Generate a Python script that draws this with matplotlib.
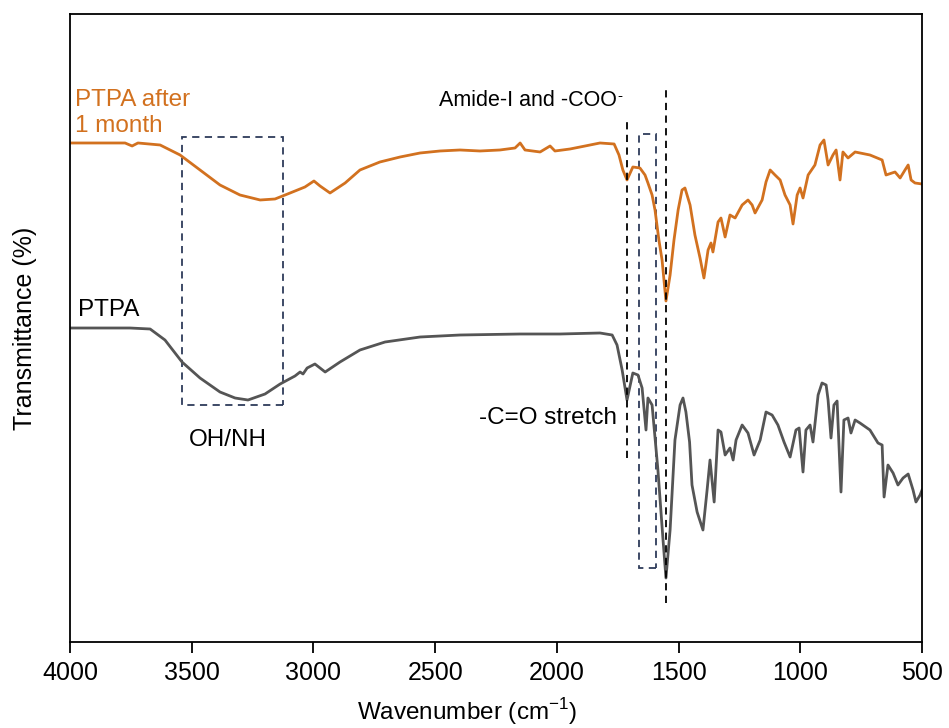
import matplotlib
matplotlib.use('Agg')
import matplotlib.pyplot as plt
from matplotlib.patches import Rectangle

plt.rcParams['font.family'] = ['Liberation Sans', 'DejaVu Sans']

# wavenumber (cm-1) and transmittance (arbitrary units, offset traces)
aged_wn = [4000, 3877, 3774, 3745, 3721, 3630, 3548, 3466, 3384, 3302, 3219, 3158,
           3096, 3035, 2998, 2973, 2932, 2870, 2809, 2727, 2644, 2562, 2480, 2398,
           2316, 2234, 2172, 2151, 2131, 2069, 2028, 2008, 1946, 1884, 1823, 1765,
           1745, 1729, 1712, 1688, 1659, 1638, 1626, 1609, 1597, 1581, 1568, 1552,
           1535, 1519, 1502, 1486, 1474, 1453, 1433, 1412, 1396, 1379, 1367, 1359,
           1338, 1326, 1309, 1289, 1268, 1239, 1215, 1198, 1186, 1157, 1141, 1124,
           1104, 1083, 1063, 1042, 1030, 1013, 1001, 989, 968, 940, 919, 903, 886,
           866, 853, 837, 825, 804, 775, 714, 664, 648, 611, 590, 570, 557, 545,
           529, 500]
aged_t = [499, 499, 499, 496, 499, 497, 487, 472, 457, 447, 442, 443,
          449, 455, 461, 456, 449, 459, 472, 480, 485, 489, 491, 492,
          491, 492, 494, 499, 492, 490, 496, 491, 493, 496, 499, 498,
          487, 472, 462, 475, 474, 467, 459, 447, 432, 402, 382, 341,
          367, 402, 432, 452, 454, 437, 407, 384, 364, 392, 399, 390,
          420, 424, 405, 427, 424, 437, 442, 437, 429, 442, 460, 472,
          467, 462, 447, 437, 418, 447, 454, 444, 467, 477, 497, 502, 477,
          487, 492, 462, 490, 484, 490, 487, 482, 467, 470, 464, 472, 477, 462,
          459, 458]

ptpa_wn = [4000, 3877, 3754, 3671, 3610, 3540, 3466, 3384, 3322, 3269, 3199, 3137,
           3076, 3055, 3043, 3026, 2994, 2952, 2891, 2809, 2706, 2562, 2398, 2151,
           1987, 1823, 1773, 1753, 1732, 1712, 1688, 1667, 1650, 1634, 1626, 1609,
           1585, 1564, 1552, 1535, 1515, 1494, 1482, 1470, 1455, 1445, 1424, 1400,
           1383, 1371, 1354, 1338, 1326, 1309, 1289, 1276, 1264, 1239, 1215, 1190,
           1165, 1141, 1116, 1092, 1067, 1042, 1018, 1005, 989, 977, 960, 948, 927,
           911, 894, 886, 874, 862, 849, 833, 821, 804, 792, 775, 755, 714, 681,
           664, 656, 640, 619, 599, 578, 557, 537, 525, 508, 500]
ptpa_t = [314, 314, 314, 313, 302, 280, 264, 250, 244, 242, 248, 258,
          266, 270, 268, 274, 278, 270, 280, 292, 300, 305, 307, 308,
          308, 309, 307, 297, 272, 242, 269, 267, 254, 212, 244, 237,
          172, 102, 64, 112, 202, 237, 244, 230, 200, 157, 130, 112,
          152, 182, 140, 212, 210, 187, 194, 182, 202, 217, 209, 187,
          202, 230, 227, 217, 200, 185, 212, 214, 170, 212, 217, 200, 247,
          259, 257, 242, 204, 237, 241, 150, 222, 224, 209, 222, 219, 212, 199,
          197, 145, 177, 169, 157, 164, 168, 152, 140, 147, 152]

# annotation regions (cm-1)
ohnh_box = (3540, 3125)
coo_box = (1662, 1592)
amide_lines = [1712, 1551]

orange = '#d2711f'
box_col = '#2e3c5a'
dash = (0, (4, 3))

fig = plt.figure(figsize=(9.49, 7.28), dpi=100)
ax = fig.add_axes([0.0738, 0.1181, 0.8978, 0.8627])

ax.plot(aged_wn, aged_t, color=orange, lw=2.0)
ax.plot(ptpa_wn, ptpa_t, color='#555555', lw=2.0)

ax.set_xlim(4000, 500)
ax.set_ylim(0, 628)
ax.set_yticks([])
ax.set_xticks([4000, 3500, 3000, 2500, 2000, 1500, 1000, 500])
ax.tick_params(axis='x', labelsize=18, length=8, width=1.3, pad=6)
for s in ax.spines.values():
    s.set_linewidth(1.3)

ax.add_patch(Rectangle((ohnh_box[1], 642 - 405), ohnh_box[0] - ohnh_box[1], 405 - 137,
                       fill=False, ec=box_col, ls=dash, lw=1.3))
ax.add_patch(Rectangle((coo_box[1], 642 - 568), coo_box[0] - coo_box[1], 568 - 134,
                       fill=False, ec=box_col, ls=dash, lw=1.3))
ax.plot([amide_lines[0], amide_lines[0]], [642 - 458, 642 - 117], color='black',
        ls=dash, lw=1.3)
ax.plot([amide_lines[1], amide_lines[1]], [642 - 603, 642 - 86], color='black',
        ls=dash, lw=1.3)

ax.text(3980, 642 - 113, 'PTPA after\n1 month', color=orange, fontsize=17.5,
        va='center', ha='left', linespacing=1.25)
ax.text(3966, 642 - 310, 'PTPA', color='black', fontsize=17.5, va='center', ha='left')
ax.text(3352, 642 - 440, 'OH/NH', color='black', fontsize=17.5, va='center', ha='center')
amide = ax.text(1753, 642 - 101, 'Amide-I and -COO', color='black', fontsize=15.5,
                va='center', ha='right')
ax.annotate('-', xy=(1.0, 0.72), xycoords=amide, fontsize=11, ha='left', va='center')
ax.text(1755, 642 - 418, '-C=O stretch', color='black', fontsize=17.5,
        va='center', ha='right')

ax.set_xlabel('Wavenumber (cm$^{\\mathregular{-1}}$)', fontsize=17.5)
ax.xaxis.set_label_coords(0.466, -0.086)
ax.set_ylabel('Transmittance (%)', fontsize=18, labelpad=24)

fig.savefig('out.png', dpi=100)
